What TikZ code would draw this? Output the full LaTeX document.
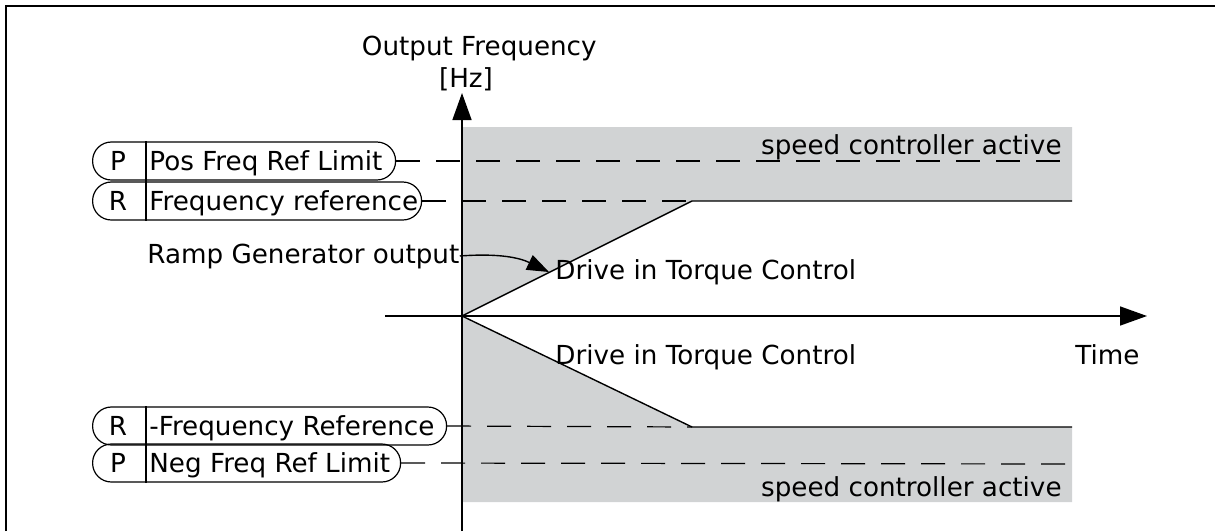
\documentclass[tikz,border=0pt]{standalone}
\usepackage{fontspec}
\setmainfont{DejaVu Sans}
\usetikzlibrary{arrows.meta}
\definecolor{greyfill}{HTML}{D1D3D4}
\begin{document}
\begin{tikzpicture}[x=0.5pt,y=-0.5pt,
  txt/.style={inner sep=0pt,font=\fontsize{13.1}{15}\selectfont},
  pill/.style={draw,line width=0.6pt,rounded corners=9.4pt,minimum height=19pt,inner sep=0pt,anchor=west},
  axisline/.style={line width=0.75pt,-{Triangle[length=13.5pt,width=9.5pt]}},
  guide/.style={line width=0.6pt,dash pattern=on 12pt off 8pt},
  curve/.style={line width=0.7pt}]
\useasboundingbox (0,0) rectangle (1215,531);
% frame
\draw[line width=1pt] (6,531) -- (6,6) -- (1215,6);
% shaded regions
\fill[greyfill] (462,127) -- (1072,127) -- (1072,201) -- (692,201) -- (462,316) -- cycle;
\fill[greyfill] (462,316) -- (692,427) -- (1072,427) -- (1072,502) -- (462,502) -- cycle;
% coordinates
\coordinate (O) at (462,316);
\coordinate (rampTop) at (692,201);
\coordinate (rampBot) at (692,427);
\coordinate (endTop) at (1072,201);
\coordinate (endBot) at (1072,427);
\coordinate (limTop) at (1062,161);
\coordinate (limBot) at (1068,464);
\coordinate (yStart) at (462,531);
\coordinate (yEnd) at (462,93);
\coordinate (xStart) at (385,316);
\coordinate (xEnd) at (1147,316);
\coordinate (rp) at (549,272);
% pills
\node[pill,minimum width=151.5pt] (p1) at (92,161) {};
\node[pill,minimum width=164.5pt] (p2) at (92,201) {};
\node[pill,minimum width=177pt] (p3) at (92,426) {};
\node[pill,minimum width=154pt] (p4) at (92,463) {};
\foreach \n/\l/\t in {p1/P/Pos Freq Ref Limit, p2/R/Frequency reference, p3/R/-Frequency Reference, p4/P/Neg Freq Ref Limit}{
  \draw[line width=0.6pt] ([xshift=27pt]\n.north west) -- ([xshift=27pt]\n.south west);
  \node[txt,anchor=base] (\n l) at ([xshift=13pt,yshift=-4.65pt]\n.west) {\l};
  \node[txt,anchor=base west] (\n t) at ([xshift=28.5pt,yshift=-4.65pt]\n.west) {\t};
}
% guide lines
\draw[guide] (p1.east) -- (limTop);
\draw[guide] (p2.east) -- (rampTop);
\draw[guide] (p3.east) -- (rampBot);
\draw[guide] (p4.east) -- (limBot);
% ramps
\draw[curve] (O) -- (rampTop) -- (endTop);
\draw[curve] (O) -- (rampBot) -- (endBot);
% axes
\draw[axisline] (yStart) -- (yEnd);
\draw[axisline] (xStart) -- (xEnd);
% texts
\node[txt,anchor=base east] (yl1) at (597,55) {Output Frequency};
\node[txt,anchor=base] (yl2) at (466,87) {[Hz]};
\node[txt,anchor=base east] (sc1) at (1062,154) {speed controller active};
\node[txt,anchor=base east] (sc2) at (1062,496) {speed controller active};
\node[txt,anchor=base west] (rg) at (147,263) {Ramp Generator output};
\node[txt,anchor=base west] (dt1) at (555,279) {Drive in Torque Control};
\node[txt,anchor=base west] (dt2) at (555,364) {Drive in Torque Control};
\node[txt,anchor=base west] (time) at (1075,364) {Time};
% ramp arrow
\draw[curve,-{Triangle[length=11pt,width=8pt]}] (rg.east) .. controls (500,253) and (520,258) .. (rp);
\end{tikzpicture}
\end{document}
